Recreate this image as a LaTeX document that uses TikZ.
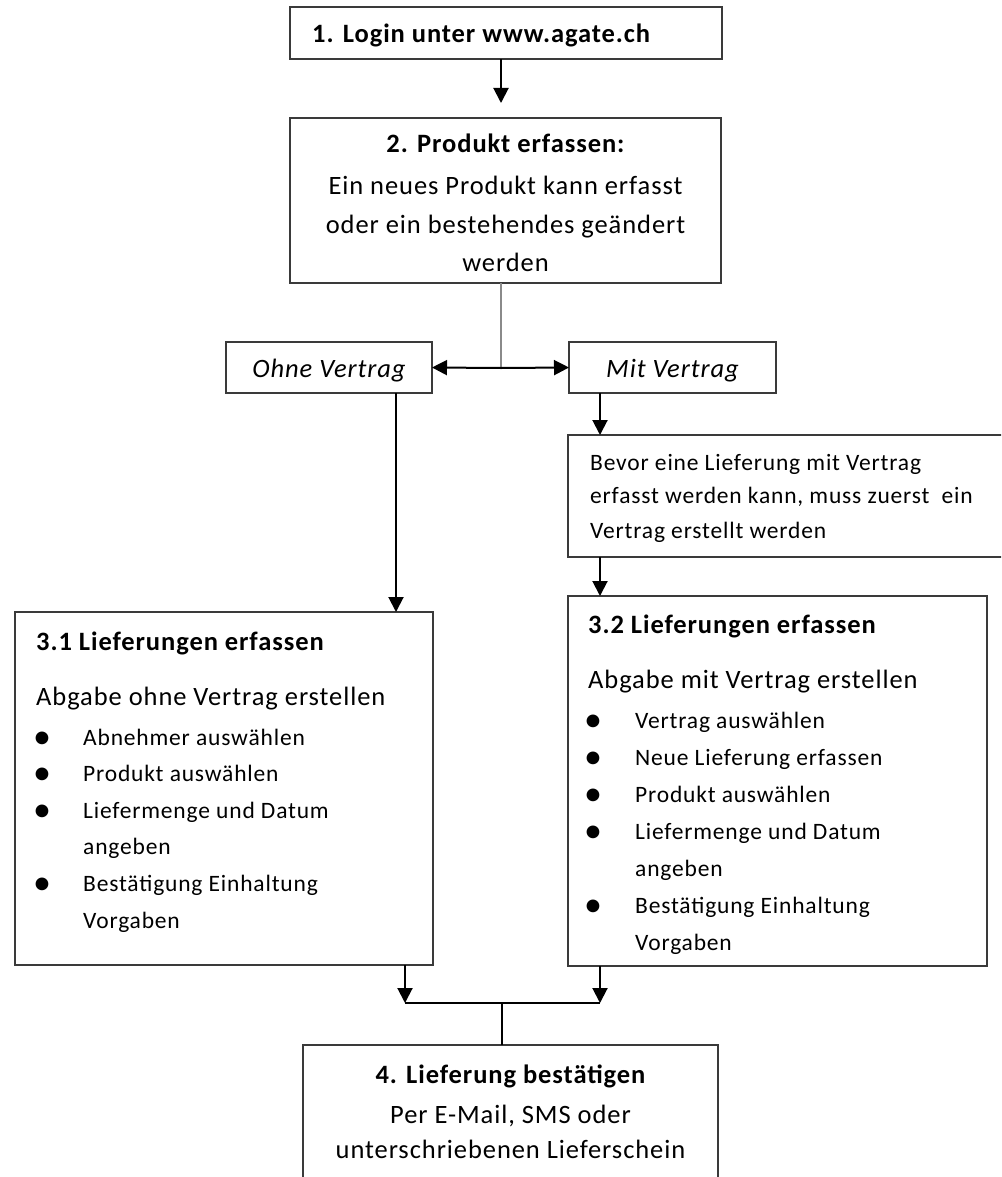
\documentclass[tikz,border=0pt]{standalone}
\usepackage{fontspec}
\setmainfont{Carlito}[LetterSpace=3.5]
\usetikzlibrary{arrows.meta,calc}
\definecolor{boxcol}{HTML}{3A3A3A}
\definecolor{gcol}{HTML}{8A8A8A}
\newcommand\fbig{\fontsize{26.5}{26.5}\selectfont}
\newcommand\fsmall{\fontsize{23.5}{23.5}\selectfont}
\newcommand\fbul{\fontsize{36}{36}\selectfont}
\begin{document}
\begin{tikzpicture}[x=1pt,y=-1pt,
  box/.style={draw=boxcol,line width=2pt,anchor=north west,inner sep=0pt,outer sep=0pt},
  tl/.style={inner sep=0pt,anchor=base west,font=\fbig},
  tc/.style={inner sep=0pt,anchor=base,font=\fbig},
  ts/.style={inner sep=0pt,anchor=base west,font=\fsmall},
  bul/.style={inner sep=0pt,anchor=base,font=\fbul},
  arr/.style={draw=black,line width=2pt,-{Triangle[width=15pt,length=15pt]}},
  conn/.style={draw=black,line width=2pt},
  gline/.style={draw=gcol,line width=2pt}]
\clip (0,0) rectangle (1001,1177);
\useasboundingbox (0,0) rectangle (1001,1177);

% boxes
\node[box,minimum width=432pt,minimum height=52pt] (b1) at (290,7) {};
\node[box,minimum width=431pt,minimum height=165pt] (b2) at (290,118) {};
\node[box,minimum width=206pt,minimum height=51pt] (ohne) at (226,342) {};
\node[box,minimum width=207pt,minimum height=51pt] (mit) at (569,342) {};
\node[box,minimum width=445pt,minimum height=122pt] (bev) at (568,435) {};
\node[box,minimum width=418pt,minimum height=353pt] (b31) at (15,612) {};
\node[box,minimum width=419pt,minimum height=370pt] (b32) at (568,596) {};
\node[box,minimum width=415pt,minimum height=160pt] (b4) at (303,1045) {};

% texts
\node[tl] (t1) at (312,43) {\bfseries 1. Login unter www.agate.ch};

\node[tc] (t2a) at (505.5,153) {\bfseries 2. Produkt erfassen:};
\node[tc] (t2b) at (505.5,194) {Ein neues Produkt kann erfasst};
\node[tc] (t2c) at (505.5,233) {oder ein bestehendes geändert};
\node[tc] (t2d) at (505.5,271) {werden};

\node[tc] (to) at (329,377) {\itshape Ohne Vertrag};
\node[tc] (tm) at (672.5,377) {\itshape Mit Vertrag};

\node[ts] (tb1) at (590,470) {Bevor eine Lieferung mit Vertrag};
\node[ts] (tb2) at (590,503) {erfasst werden kann, muss zuerst\ \ ein};
\node[ts] (tb3) at (590,538) {Vertrag erstellt werden};

\node[tl] (h31) at (36,650) {\bfseries 3.1 Lieferungen erfassen};
\node[tl] (a31) at (36,705) {Abgabe ohne Vertrag erstellen};
\node[ts] (i31a) at (83,745) {Abnehmer auswählen};
\node[ts] (i31b) at (83,781.6) {Produkt auswählen};
\node[ts] (i31c) at (83,818.2) {Liefermenge und Datum};
\node[ts] (i31d) at (83,854.8) {angeben};
\node[ts] (i31e) at (83,891.4) {Bestätigung Einhaltung};
\node[ts] (i31f) at (83,928) {Vorgaben};
\node[bul] (u31a) at (42,748) {•};
\node[bul] (u31b) at (42,784.6) {•};
\node[bul] (u31c) at (42,821.2) {•};
\node[bul] (u31e) at (42,894.4) {•};

\node[tl] (h32) at (588,633) {\bfseries 3.2 Lieferungen erfassen};
\node[tl] (a32) at (588,688) {Abgabe mit Vertrag erstellen};
\node[ts] (i32a) at (635,728) {Vertrag auswählen};
\node[ts] (i32b) at (635,765) {Neue Lieferung erfassen};
\node[ts] (i32c) at (635,802) {Produkt auswählen};
\node[ts] (i32d) at (635,839) {Liefermenge und Datum};
\node[ts] (i32e) at (635,876) {angeben};
\node[ts] (i32f) at (635,913) {Bestätigung Einhaltung};
\node[ts] (i32g) at (635,950) {Vorgaben};
\node[bul] (u32a) at (593,731) {•};
\node[bul] (u32b) at (593,768) {•};
\node[bul] (u32c) at (593,805) {•};
\node[bul] (u32d) at (593,842) {•};
\node[bul] (u32f) at (593,916) {•};

\node[tc] (t4a) at (510.5,1083) {\bfseries 4. Lieferung bestätigen};
\node[tc] (t4b) at (510.5,1123) {Per E-Mail, SMS oder};
\node[tc] (t4c) at (510.5,1158) {unterschriebenen Lieferschein};

% connectors
\coordinate (xa) at (501,0);
\coordinate (xo) at (396,0);
\coordinate (xm) at (600,0);
\coordinate (xl) at (405,0);
\coordinate (j1) at (501,368);
\coordinate (jl) at (405,1003);
\coordinate (jr) at (600,1003);
\coordinate (jm) at (502,1003);

\draw[arr] (b1.south -| xa) -- ($(b2.north -| xa)+(0,-15)$);
\draw[gline] (b2.south -| xa) -- (j1);
\draw[arr] (j1) -- (ohne.east);
\draw[arr] (j1) -- (mit.west);
\draw[arr] (ohne.south -| xo) -- (b31.north -| xo);
\draw[arr] (mit.south -| xm) -- (bev.north -| xm);
\draw[arr] (bev.south -| xm) -- (b32.north -| xm);
\draw[arr] (b31.south -| xl) -- (jl);
\draw[arr] (b32.south -| xm) -- (jr);
\draw[conn] (jl) -- (jr);
\draw[conn] (jm) -- (b4.north -| jm);
\end{tikzpicture}
\end{document}
